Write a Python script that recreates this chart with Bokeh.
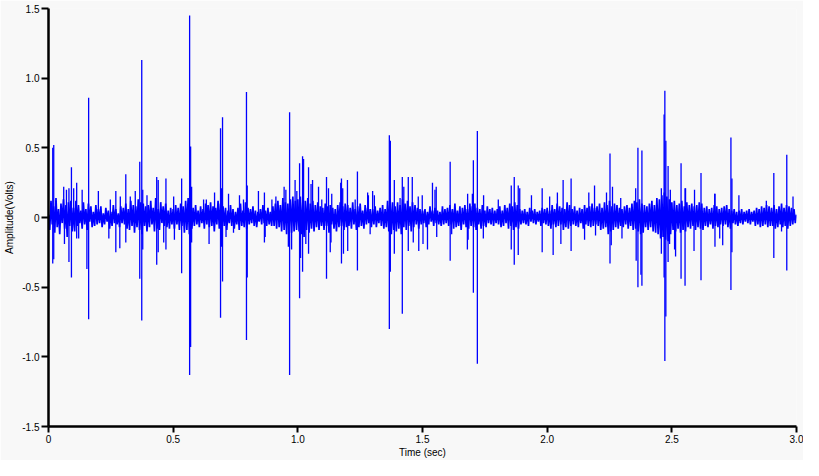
from bokeh.plotting import figure
from bokeh.models import Range1d, FixedTicker, ColumnDataSource
from bokeh.embed import file_html
from bokeh.resources import INLINE
import numpy as np

# ---------------- data ----------------
sample_step = 0.005  # seconds between background samples

# background waveform, 20 samples per 0.1 s row
noise = [
    0.02,-0.09,0.12,-0.05,0.08,-0.11,0.14,-0.07,0.06,-0.12,0.10,-0.04,0.13,-0.08,0.09,-0.14,0.11,-0.06,0.12,-0.10,
    0.07,-0.10,0.12,-0.06,0.09,-0.04,0.05,-0.08,0.11,-0.05,0.06,-0.09,0.10,-0.03,0.08,-0.07,0.04,-0.06,0.09,-0.05,
    0.06,-0.04,0.08,-0.07,0.03,-0.05,0.07,-0.03,0.05,-0.08,0.04,-0.06,0.09,-0.04,0.06,-0.05,0.03,-0.07,0.08,-0.04,
    0.07,-0.05,0.10,-0.08,0.06,-0.09,0.12,-0.06,0.09,-0.11,0.08,-0.07,0.13,-0.09,0.11,-0.12,0.10,-0.06,0.08,-0.10,
    0.09,-0.07,0.12,-0.05,0.07,-0.10,0.14,-0.08,0.06,-0.09,0.11,-0.04,0.08,-0.06,0.10,-0.07,0.05,-0.08,0.07,-0.05,
    0.06,-0.08,0.09,-0.05,0.07,-0.09,0.10,-0.06,0.08,-0.11,0.12,-0.09,0.14,-0.12,0.10,-0.08,0.07,-0.06,0.09,-0.05,
    0.05,-0.07,0.08,-0.04,0.06,-0.08,0.10,-0.05,0.09,-0.07,0.11,-0.06,0.08,-0.10,0.07,-0.05,0.12,-0.08,0.10,-0.09,
    0.08,-0.06,0.07,-0.09,0.05,-0.04,0.09,-0.06,0.06,-0.08,0.04,-0.05,0.07,-0.09,0.10,-0.06,0.05,-0.07,0.11,-0.08,
    0.07,-0.05,0.06,-0.04,0.08,-0.06,0.05,-0.07,0.04,-0.03,0.06,-0.05,0.09,-0.04,0.05,-0.06,0.07,-0.05,0.04,-0.06,
    0.08,-0.06,0.10,-0.08,0.12,-0.07,0.09,-0.10,0.14,-0.09,0.11,-0.12,0.10,-0.08,0.13,-0.11,0.15,-0.10,0.12,-0.09,
    0.13,-0.10,0.15,-0.12,0.11,-0.14,0.12,-0.09,0.14,-0.11,0.10,-0.08,0.12,-0.10,0.09,-0.07,0.11,-0.09,0.08,-0.06,
    0.07,-0.09,0.10,-0.06,0.08,-0.11,0.09,-0.05,0.07,-0.08,0.06,-0.10,0.09,-0.07,0.11,-0.06,0.08,-0.09,0.10,-0.07,
    0.09,-0.06,0.07,-0.08,0.11,-0.05,0.06,-0.09,0.08,-0.07,0.10,-0.06,0.05,-0.08,0.09,-0.05,0.07,-0.04,0.06,-0.07,
    0.06,-0.05,0.08,-0.07,0.05,-0.04,0.07,-0.06,0.09,-0.08,0.06,-0.07,0.12,-0.10,0.14,-0.12,0.11,-0.09,0.08,-0.10,
    0.11,-0.08,0.09,-0.12,0.13,-0.07,0.10,-0.09,0.12,-0.06,0.08,-0.10,0.11,-0.07,0.09,-0.05,0.07,-0.08,0.06,-0.05,
    0.05,-0.04,0.06,-0.07,0.04,-0.05,0.08,-0.03,0.05,-0.06,0.07,-0.04,0.05,-0.05,0.04,-0.06,0.08,-0.05,0.06,-0.04,
    0.07,-0.06,0.09,-0.05,0.06,-0.08,0.10,-0.07,0.05,-0.06,0.08,-0.09,0.07,-0.05,0.09,-0.07,0.06,-0.08,0.10,-0.06,
    0.08,-0.07,0.10,-0.09,0.07,-0.05,0.06,-0.08,0.09,-0.06,0.05,-0.07,0.08,-0.04,0.06,-0.05,0.07,-0.06,0.05,-0.04,
    0.06,-0.05,0.08,-0.07,0.05,-0.06,0.09,-0.04,0.07,-0.08,0.10,-0.06,0.08,-0.09,0.11,-0.07,0.09,-0.08,0.06,-0.05,
    0.05,-0.04,0.06,-0.05,0.04,-0.06,0.07,-0.03,0.05,-0.04,0.06,-0.05,0.04,-0.03,0.05,-0.06,0.07,-0.04,0.06,-0.05,
    0.07,-0.06,0.05,-0.08,0.09,-0.05,0.06,-0.07,0.10,-0.06,0.08,-0.05,0.07,-0.09,0.06,-0.07,0.11,-0.08,0.09,-0.06,
    0.06,-0.05,0.08,-0.06,0.05,-0.07,0.07,-0.04,0.06,-0.08,0.09,-0.05,0.07,-0.06,0.08,-0.07,0.10,-0.06,0.07,-0.05,
    0.08,-0.06,0.10,-0.09,0.07,-0.08,0.11,-0.07,0.09,-0.12,0.12,-0.10,0.08,-0.09,0.10,-0.07,0.09,-0.08,0.07,-0.06,
    0.06,-0.07,0.08,-0.05,0.09,-0.08,0.07,-0.06,0.10,-0.09,0.12,-0.08,0.11,-0.10,0.13,-0.12,0.10,-0.11,0.09,-0.07,
    0.08,-0.09,0.10,-0.07,0.12,-0.10,0.09,-0.11,0.14,-0.12,0.13,-0.15,0.16,-0.14,0.18,-0.16,0.15,-0.17,0.13,-0.12,
    0.11,-0.09,0.12,-0.10,0.09,-0.08,0.10,-0.11,0.12,-0.09,0.08,-0.10,0.11,-0.07,0.09,-0.08,0.10,-0.06,0.08,-0.09,
    0.09,-0.07,0.11,-0.08,0.10,-0.09,0.07,-0.06,0.08,-0.07,0.06,-0.05,0.07,-0.08,0.09,-0.06,0.08,-0.07,0.06,-0.05,
    0.07,-0.06,0.08,-0.05,0.09,-0.07,0.06,-0.08,0.05,-0.04,0.06,-0.05,0.04,-0.06,0.05,-0.04,0.06,-0.05,0.04,-0.03,
    0.05,-0.04,0.06,-0.05,0.04,-0.03,0.05,-0.06,0.07,-0.05,0.06,-0.07,0.08,-0.06,0.07,-0.05,0.09,-0.07,0.08,-0.06,
    0.07,-0.06,0.09,-0.08,0.06,-0.07,0.08,-0.05,0.10,-0.07,0.07,-0.06,0.09,-0.08,0.08,-0.06,0.07,-0.05,0.06,-0.04,
    0.02,
]

# large spikes (time in s, amplitude in V)
spike_time = [
    0.017, 0.017, 0.021, 0.021, 0.061, 0.064, 0.082, 0.082, 0.092, 0.092,
    0.113, 0.113, 0.154, 0.161, 0.161, 0.200, 0.270, 0.270, 0.310, 0.310,
    0.366, 0.366, 0.374, 0.374, 0.378, 0.378, 0.434, 0.434, 0.440, 0.440,
    0.471, 0.471, 0.534, 0.534, 0.566, 0.566, 0.570, 0.570, 0.574, 0.574,
    0.644, 0.690, 0.690, 0.694, 0.694, 0.698, 0.698, 0.794, 0.794, 0.797,
    0.797, 0.866, 0.866, 0.945, 0.967, 0.967, 0.975, 0.989, 1.007, 1.007,
    1.011, 1.019, 1.019, 1.023, 1.043, 1.043, 1.059, 1.083, 1.115, 1.115,
    1.123, 1.130, 1.175, 1.175, 1.180, 1.183, 1.199, 1.200, 1.239, 1.239,
    1.280, 1.300, 1.367, 1.367, 1.371, 1.371, 1.387, 1.387, 1.419, 1.419,
    1.425, 1.443, 1.443, 1.459, 1.520, 1.540, 1.555, 1.611, 1.611, 1.680,
    1.700, 1.704, 1.704, 1.720, 1.720, 1.856, 1.856, 1.868, 1.868, 1.884,
    1.884, 1.980, 1.980, 2.024, 2.064, 2.096, 2.096, 2.190, 2.252, 2.252,
    2.357, 2.364, 2.364, 2.376, 2.380, 2.380, 2.458, 2.458, 2.469, 2.469,
    2.472, 2.472, 2.476, 2.476, 2.485, 2.485, 2.511, 2.537, 2.537, 2.553,
    2.553, 2.589, 2.617, 2.617, 2.673, 2.673, 2.704, 2.737, 2.737, 2.741,
    2.741, 2.909, 2.909, 2.961, 2.961,
]
spike_value = [
    0.50, -0.33, 0.52, -0.30, 0.22, -0.19, 0.21, -0.32, 0.36, -0.43,
    0.25, -0.15, -0.37, 0.86, -0.73, 0.19, 0.19, -0.25, 0.31, -0.18,
    0.40, -0.44, 1.13, -0.74, 0.20, -0.23, 0.29, -0.34, 0.27, -0.25,
    0.28, -0.23, 0.28, -0.40, 1.45, -1.13, 0.51, -0.93, 0.22, -0.18,
    -0.19, 0.64, -0.72, 0.21, -0.21, 0.72, -0.46, 0.90, -0.88, 0.23,
    -0.43, 0.18, -0.18, 0.22, 0.755, -1.13, -0.23, 0.27, 0.39, -0.58,
    -0.29, 0.44, -0.39, 0.42, 0.36, -0.26, 0.27, 0.22, 0.29, -0.44,
    0.21, -0.25, 0.28, -0.33, 0.21, -0.26, 0.27, -0.24, 0.33, -0.38,
    0.18, 0.19, 0.59, -0.80, 0.55, -0.39, 0.27, -0.26, 0.29, -0.69,
    0.22, 0.29, -0.24, 0.29, -0.23, 0.25, 0.22, 0.40, -0.31, -0.23,
    0.17, 0.41, -0.54, 0.62, -1.05, 0.23, -0.23, 0.29, -0.34, 0.23,
    -0.27, 0.21, -0.25, -0.27, 0.27, 0.28, -0.24, 0.23, 0.46, -0.33,
    -0.31, 0.50, -0.50, -0.41, 0.48, -0.49, 0.21, -0.26, 0.74, -0.43,
    0.91, -1.03, 0.55, -0.71, 0.37, -0.32, -0.23, 0.39, -0.44, 0.21,
    -0.49, -0.24, 0.32, -0.45, 0.17, -0.21, -0.20, 0.575, -0.52, 0.28,
    -0.25, 0.32, -0.29, 0.45, -0.38,
]

# medium excursions forming the fringe of the band
mid_time = [
    0.072, 0.101, 0.121, 0.135, 0.242, 0.248, 0.286, 0.288, 0.328, 0.348,
    0.395, 0.462, 0.502, 0.505, 0.622, 0.633, 0.666, 0.712, 0.722, 0.742,
    0.766, 0.782, 0.842, 0.869, 0.896, 0.912, 0.952, 0.962, 0.996, 1.032,
    1.053, 1.096, 1.133, 1.136, 1.172, 1.230, 1.283, 1.290, 1.307, 1.410,
    1.463, 1.483, 1.485, 1.499, 1.502, 1.550, 1.557, 1.617, 1.681, 1.683,
    1.744, 1.745, 1.804, 1.890, 1.937, 2.010, 2.041, 2.055, 2.150, 2.167,
    2.194, 2.238, 2.257, 2.262, 2.295, 2.300, 2.355, 2.491, 2.494, 2.515,
    2.555, 2.591, 2.672, 2.692, 2.769, 2.879, 2.940, 2.986,
]
mid_value = [
    0.20, 0.21, -0.15, 0.20, -0.15, 0.13, -0.22, 0.15, 0.15, 0.19,
    0.16, -0.18, 0.15, -0.16, 0.13, 0.13, 0.18, -0.14, 0.17, -0.11,
    0.16, 0.13, 0.19, -0.14, 0.13, 0.15, 0.20, -0.21, 0.19, -0.19,
    0.24, 0.13, -0.18, 0.17, 0.25, 0.13, 0.16, -0.12, 0.16, 0.14,
    -0.18, 0.15, -0.24, 0.16, -0.19, 0.20, -0.14, -0.12, 0.17, -0.16,
    -0.15, 0.16, 0.13, 0.21, 0.16, 0.15, 0.18, -0.19, -0.16, 0.18,
    -0.13, 0.18, -0.20, 0.22, 0.14, -0.15, 0.21, -0.19, 0.20, -0.28,
    0.21, 0.20, 0.17, -0.15, 0.16, 0.12, -0.10, 0.15,
]

x_ticks = [0, 0.5, 1.0, 1.5, 2.0, 2.5, 3.0]
x_tick_labels = ["0", "0.5", "1.0", "1.5", "2.0", "2.5", "3.0"]
y_ticks = [-1.5, -1.0, -0.5, 0, 0.5, 1.0, 1.5]
y_tick_labels = ["-1.5", "-1.0", "-0.5", "0", "0.5", "1.0", "1.5"]

# ---------------- figure ----------------
BG = "#f8f8f8"
BLUE = "#0000ff"
FONT = "Liberation Sans"

p = figure(width=803, height=460, output_backend="svg", toolbar_location=None,
           x_range=Range1d(0, 3.0), y_range=Range1d(-1.5, 1.5),
           min_border_left=48, min_border_right=7, min_border_top=8, min_border_bottom=32)
p.background_fill_color = BG
p.border_fill_color = BG
p.outline_line_color = None
p.grid.visible = False

t = np.arange(len(noise)) * sample_step
p.line(x=t, y=noise, line_color=BLUE, line_width=1.7)

all_t = spike_time + mid_time
all_v = spike_value + mid_value
src = ColumnDataSource(dict(t=all_t, v=all_v, z=[0.0] * len(all_t)))
p.segment(x0="t", y0="z", x1="t", y1="v", source=src, line_color=BLUE, line_width=1.3)

for ax, ticks, labels in ((p.xaxis[0], x_ticks, x_tick_labels), (p.yaxis[0], y_ticks, y_tick_labels)):
    ax.ticker = FixedTicker(ticks=ticks)
    ax.major_label_overrides = {k: s for k, s in zip(ticks, labels)}
    ax.axis_line_width = 2.5
    ax.axis_line_color = "black"
    ax.major_tick_line_width = 2
    ax.major_tick_line_color = "black"
    ax.major_tick_in = 0
    ax.major_tick_out = 7
    ax.minor_tick_line_color = None
    ax.major_label_text_font = FONT
    ax.major_label_text_font_size = "10px"
    ax.major_label_text_color = "black"
    ax.major_label_standoff = 2
    ax.axis_label_text_font = FONT
    ax.axis_label_text_font_size = "10px"
    ax.axis_label_text_font_style = "normal"
    ax.axis_label_text_color = "black"
    ax.axis_label_standoff = 4

p.xaxis.axis_label = "Time (sec)"
p.yaxis.axis_label = "Amplitude(Volts)"
p.xaxis[0].major_tick_out = 6
p.xaxis[0].axis_label_standoff = 1

open("out.html", "w").write(file_html(p, INLINE))
